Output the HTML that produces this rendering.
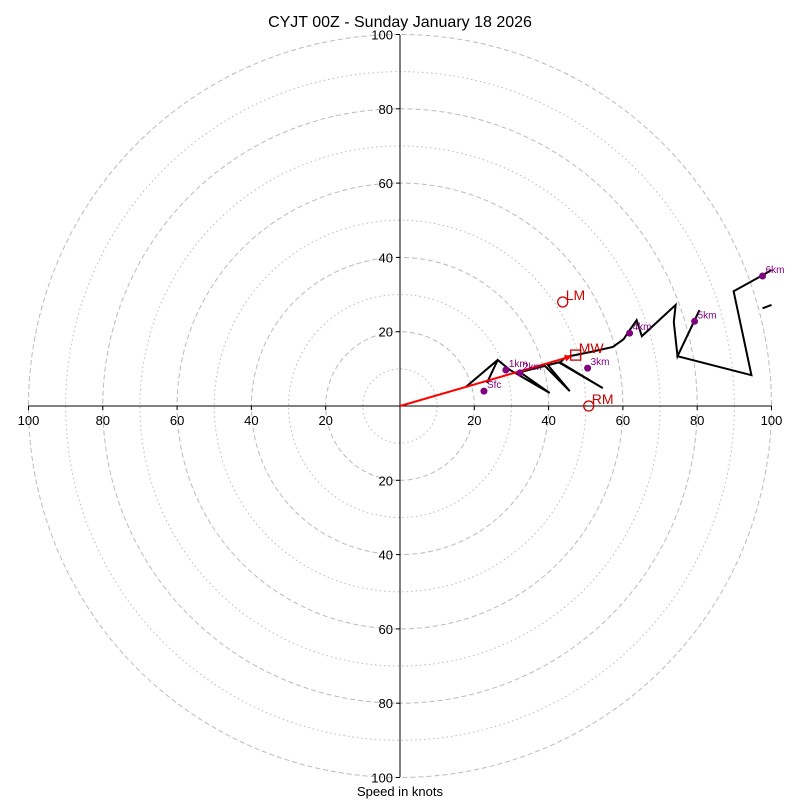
<!DOCTYPE html>
<html><head><meta charset="utf-8"><style>
body{margin:0;background:#fff;}
svg{display:block;font-family:"Liberation Sans",sans-serif;}
</style></head><body>
<svg id="chart" width="800" height="800">
<text x="400" y="27" text-anchor="middle" font-size="16">CYJT 00Z - Sunday January 18 2026</text>
<text x="400" y="796" text-anchor="middle" font-size="13">Speed in knots</text>
<g id="grid"></g><g id="axes"></g><g id="marks"></g>
</svg>
<script>
const ringValues=[10,20,30,40,50,60,70,80,90,100];
const tickLabels=[20,40,60,80,100];
const profileU=[17.7,26.3,23.4,26.3,29.6,40.3,32.3,39.0,45.7,39.8,43.0,54.6,43.0,44.6,51.1,57.3,60.2,61.8,63.7,65.1,74.2,73.7,74.7,80.6,74.7,94.6,89.8,97.6,100];
const profileV=[5.1,12.4,6.2,12.4,9.7,3.5,9.1,10.8,4.0,11.0,11.8,4.8,11.6,13.2,14.5,15.9,18.0,20.4,23.1,18.8,27.2,22.6,13.4,25.8,13.4,8.3,30.9,35.2,36.6];
const extraU=[97.6,100];
const extraV=[26.3,27.2];
const levelNames=["Sfc","1km","2km","3km","4km","5km","6km"];
const levelU=[22.6,28.5,32.3,50.5,61.8,79.3,97.6];
const levelV=[4.0,9.7,8.9,10.2,19.6,22.8,35.0];
const motionNames=["LM","RM","MW"];
const motionU=[43.8,50.8,47.3];
const motionV=[28.0,0,13.7];
const cx=400,cy=406,k=3.715;
const X=u=>cx+u*k, Y=v=>cy-v*k;
const NS="http://www.w3.org/2000/svg";
function mk(t,a,p){const e=document.createElementNS(NS,t);for(const n in a)e.setAttribute(n,a[n]);p.appendChild(e);return e;}
const grid=document.getElementById('grid'),axes=document.getElementById('axes'),marks=document.getElementById('marks');
ringValues.forEach(r=>{
 const c=mk('circle',{cx:cx,cy:cy,r:r*k,fill:'none',stroke:'#bbb','stroke-width':1,'stroke-dasharray':r%20==0?'5,3':'1.5,3'},grid);
 
 
});
mk('line',{x1:28,y1:cy,x2:772,y2:cy,stroke:'#000','stroke-width':1},axes);
mk('line',{x1:cx,y1:35,x2:cx,y2:777,stroke:'#000','stroke-width':1},axes);
tickLabels.forEach(t=>{
 [1,-1].forEach(s=>{
  mk('line',{x1:X(s*t),y1:cy,x2:X(s*t),y2:cy+4,stroke:'#000'},axes);
  const tx=mk('text',{x:X(s*t),y:cy+19,'text-anchor':'middle','font-size':13},axes);tx.textContent=t;
  
  
  mk('line',{x1:cx-4,y1:Y(s*t),x2:cx,y2:Y(s*t),stroke:'#000'},axes);
  const ty=mk('text',{x:cx-7,y:Y(s*t)+5,'text-anchor':'end','font-size':13},axes);ty.textContent=t;
  
  
 });
});
const pl=mk('polyline',{points:profileU.map((u,i)=>X(u)+','+Y(profileV[i])).join(' '),fill:'none',stroke:'#000','stroke-width':2},marks);


const ex=mk('polyline',{points:extraU.map((u,i)=>X(u)+','+Y(extraV[i])).join(' '),fill:'none',stroke:'#000','stroke-width':2},marks);


// mean wind arrow
const mwx=X(motionU[2]),mwy=Y(motionV[2]);
const ang=Math.atan2(mwy-cy,mwx-cx);
const ex2=mwx-4*Math.cos(ang),ey2=mwy-4*Math.sin(ang);
const ar=mk('line',{x1:cx,y1:cy,x2:ex2,y2:ey2,stroke:'red','stroke-width':2},marks);


const hx=ex2,hy=ey2,hl=7,hw=3.5;
mk('polygon',{points:[hx,hy,hx-hl*Math.cos(ang)+hw*Math.sin(ang),hy-hl*Math.sin(ang)-hw*Math.cos(ang),hx-hl*Math.cos(ang)-hw*Math.sin(ang),hy-hl*Math.sin(ang)+hw*Math.cos(ang)].join(','),fill:'red'},marks);
levelNames.forEach((n,i)=>{
 const d=mk('circle',{cx:X(levelU[i]),cy:Y(levelV[i]),r:3.5,fill:'purple'},marks);
 
 
 const t=mk('text',{x:X(levelU[i])+3,y:Y(levelV[i])-3,'font-size':10,fill:'purple'},marks);t.textContent=n;
 
 
});
motionNames.forEach((n,i)=>{
 const x=X(motionU[i]),y=Y(motionV[i]);
 let m;
 if(n=='MW') m=mk('rect',{x:x-5,y:y-5,width:10,height:10,fill:'none',stroke:'#c00','stroke-width':1.3},marks);
 else m=mk('circle',{cx:x,cy:y,r:5,fill:'none',stroke:'#c00','stroke-width':1.3},marks);
 
 
 const t=mk('text',{x:x+3,y:y-2,'font-size':14,fill:'#c00'},marks);t.textContent=n;
 
 
});
</script>
</body></html>
